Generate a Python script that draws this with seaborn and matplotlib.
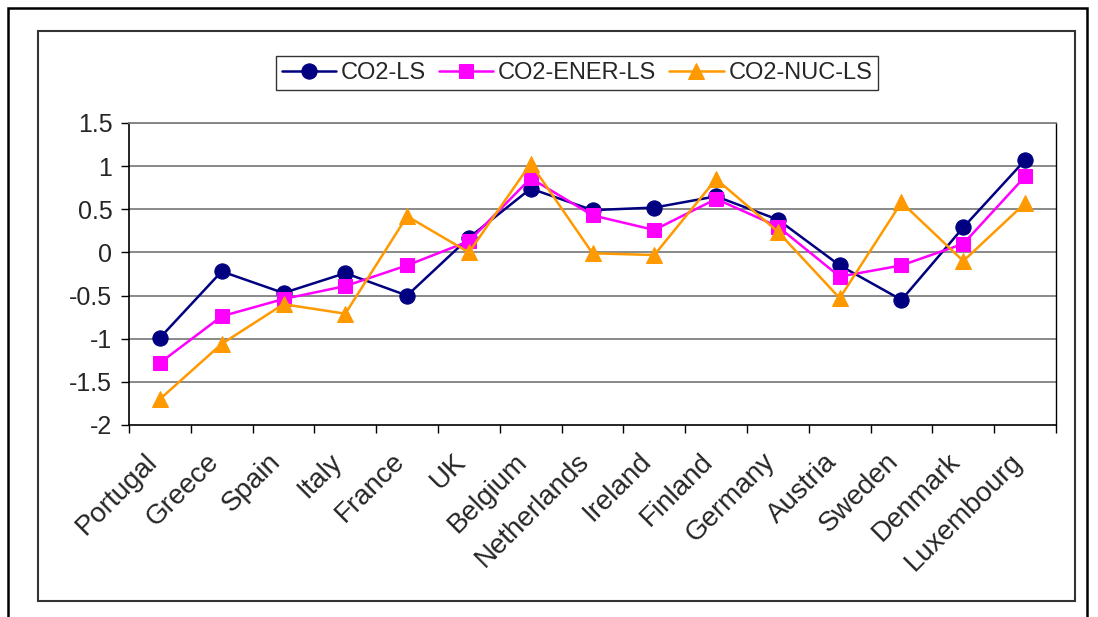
import matplotlib
matplotlib.use("Agg")
import matplotlib.pyplot as plt
from matplotlib.patches import Rectangle
import matplotlib.transforms as mtransforms
import seaborn as sns
import numpy as np
import pandas as pd

categories = ["Portugal", "Greece", "Spain", "Italy", "France", "UK", "Belgium",
              "Netherlands", "Ireland", "Finland", "Germany", "Austria", "Sweden",
              "Denmark", "Luxembourg"]
co2_ls = [-0.99, -0.22, -0.47, -0.24, -0.50, 0.17, 0.74, 0.49, 0.52, 0.65, 0.38,
          -0.15, -0.55, 0.29, 1.07]
co2_ener_ls = [-1.28, -0.74, -0.54, -0.39, -0.15, 0.13, 0.86, 0.43, 0.26, 0.62, 0.30,
               -0.28, -0.15, 0.10, 0.88]
co2_nuc_ls = [-1.70, -1.06, -0.60, -0.71, 0.42, 0.00, 1.03, -0.01, -0.03, 0.85, 0.24,
              -0.53, 0.58, -0.10, 0.57]
y_ticks = [1.5, 1, 0.5, 0, -0.5, -1, -1.5, -2]
y_tick_labels = ["1.5", "1", "0.5", "0", "-0.5", "-1", "-1.5", "-2"]

series = [
    ("CO2-LS", co2_ls, "#000080", "o", 11),
    ("CO2-ENER-LS", co2_ener_ls, "#FF00FF", "s", 10),
    ("CO2-NUC-LS", co2_nuc_ls, "#FF9900", "^", 12),
]

sns.set_style("white")
plt.rcParams["font.family"] = ["Liberation Sans", "DejaVu Sans"]

fig = plt.figure(figsize=(10.98, 6.17), dpi=100)
ax = fig.add_axes([129 / 1098, 1 - 425 / 617, (1056 - 129) / 1098, (425 - 123) / 617])

xpos = np.arange(len(categories))
for name, vals, color, marker, ms in series:
    df = pd.DataFrame({"x": xpos, "y": vals})
    sns.lineplot(data=df, x="x", y="y", ax=ax, color=color, marker=marker,
                 markersize=ms, markeredgecolor=color, linewidth=1.8, label=name,
                 legend=False)

ax.set_xlim(-0.5, len(categories) - 0.5)
ax.set_ylim(-2, 1.5)
ax.set_yticks(y_ticks)
ax.set_yticklabels(y_tick_labels, fontsize=18)
ax.set_xticks(xpos)
ax.set_xticklabels(categories, rotation=45, ha="right", rotation_mode="anchor",
                   fontsize=20)
ax.set_xticks(np.arange(-0.5, len(categories), 1), minor=True)
ax.tick_params(axis="x", which="major", length=0, pad=14)
ax.tick_params(axis="x", which="minor", length=6, width=1, color="black", bottom=True)
ax.tick_params(axis="y", which="major", length=6, width=1, color="black", left=True, pad=6)
ax.set_xlabel("")
ax.set_ylabel("")
ax.grid(False)

shift = mtransforms.ScaledTranslation(-16 / 100, -4 / 100, fig.dpi_scale_trans)
for lab in ax.get_xticklabels():
    lab.set_transform(lab.get_transform() + shift)

for yv in y_ticks:
    if yv not in (-2,):
        ax.axhline(yv, color="#808080", linewidth=1.3, zorder=0.5)

for side in ["left", "bottom"]:
    ax.spines[side].set_color("black")
    ax.spines[side].set_linewidth(1.2)
ax.spines["right"].set_color("black")
ax.spines["right"].set_linewidth(1.0)
ax.spines["top"].set_color("#808080")
ax.spines["top"].set_linewidth(1.3)

handles, labels = ax.get_legend_handles_labels()
leg = fig.legend(handles, labels, loc="center", bbox_to_anchor=(577 / 1098, 1 - 73 / 617),
                 ncol=3, frameon=True, fancybox=False, fontsize=17, handlelength=2.3,
                 columnspacing=0.55, handletextpad=0.2, borderpad=0.25, edgecolor="black",
                 borderaxespad=0)
leg.get_frame().set_linewidth(1.0)

# inner chart-area border
fig.add_artist(Rectangle((38 / 1098, 1 - 601 / 617), (1075 - 38) / 1098, (601 - 31) / 617,
                         transform=fig.transFigure, fill=False, edgecolor="#333333",
                         linewidth=1.5))
# outer border (bottom cut off)
fig.add_artist(Rectangle((8 / 1098, -0.05), (1087 - 8) / 1098, 1.05 - 8 / 617,
                         transform=fig.transFigure, fill=False, edgecolor="black",
                         linewidth=1.8, clip_on=False))

fig.savefig("out.png", dpi=100)
